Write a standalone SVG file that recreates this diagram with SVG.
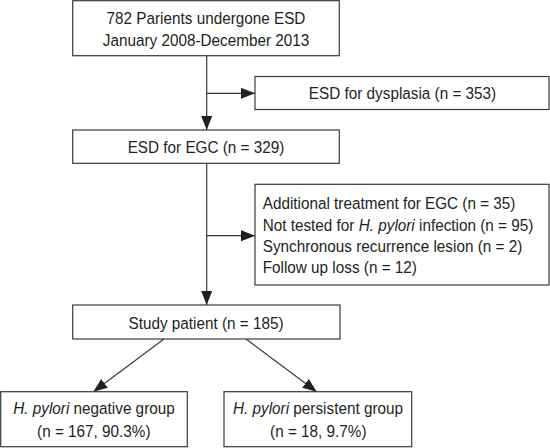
<svg xmlns="http://www.w3.org/2000/svg" width="550" height="448" viewBox="0 0 550 448">
<style>
  .box { fill: #ffffff; stroke: #3a3a3a; stroke-width: 1.2; }
  .edge { fill: none; stroke: #3a3a3a; stroke-width: 1.2; }
  text { font-family: "Liberation Sans", Arial, sans-serif; font-size: 17px; fill: #231f20; }
  .c { text-anchor: middle; }
  .i { font-style: italic; }
</style>
<defs>
  <marker id="arr" markerUnits="userSpaceOnUse" markerWidth="16" markerHeight="12" refX="14" refY="5.5" orient="auto">
    <path d="M0,0 L14,5.5 L0,11 Z" fill="#231f20"/>
  </marker>
</defs>
<rect width="550" height="448" fill="#ffffff"/>
<g id="connectors">
  <line class="edge" x1="206.7" y1="55.7" x2="206.7" y2="130" marker-end="url(#arr)"/>
  <line class="edge" x1="206.7" y1="93.3" x2="255" y2="93.3" marker-end="url(#arr)"/>
  <line class="edge" x1="206.7" y1="163.3" x2="206.7" y2="305" marker-end="url(#arr)"/>
  <line class="edge" x1="206.7" y1="235.7" x2="255" y2="235.7" marker-end="url(#arr)"/>
  <line class="edge" x1="164" y1="339" x2="93.3" y2="391.7" marker-end="url(#arr)"/>
  <line class="edge" x1="246" y1="339" x2="316.7" y2="391.7" marker-end="url(#arr)"/>
</g>
<g id="node-start">
  <rect class="box" x="72.7" y="0.7" width="266.6" height="55"/>
  <text class="c" transform="translate(206,24) scale(0.9,1)">782 Parients undergone ESD</text>
  <text class="c" transform="translate(206,45.7) scale(0.9,1)">January 2008-December 2013</text>
</g>
<g id="node-dysplasia">
  <rect class="box" x="255" y="76.5" width="294" height="33"/>
  <text class="c" transform="translate(402.5,99.3) scale(0.9,1)">ESD for dysplasia (n = 353)</text>
</g>
<g id="node-egc">
  <rect class="box" x="72.7" y="130" width="266.6" height="33.3"/>
  <text class="c" transform="translate(206,153.3) scale(0.9,1)">ESD for EGC (n = 329)</text>
</g>
<g id="node-excluded">
  <rect class="box" x="255" y="184.3" width="294" height="100.7"/>
  <text transform="translate(262.7,209.3) scale(0.9,1)">Additional treatment for EGC (n = 35)</text>
  <text transform="translate(262.7,230.6) scale(0.9,1)">Not tested for <tspan class="i">H. pylori</tspan> infection (n = 95)</text>
  <text transform="translate(262.7,251.9) scale(0.9,1)">Synchronous recurrence lesion (n = 2)</text>
  <text transform="translate(262.7,273.2) scale(0.9,1)">Follow up loss (n = 12)</text>
</g>
<g id="node-study">
  <rect class="box" x="72.7" y="305" width="267.3" height="34"/>
  <text class="c" transform="translate(206,329.3) scale(0.9,1)">Study patient (n = 185)</text>
</g>
<g id="node-negative">
  <rect class="box" x="0.7" y="391.7" width="186.6" height="55"/>
  <text class="c" transform="translate(94,414.3) scale(0.9,1)"><tspan class="i">H. pylori</tspan> negative group</text>
  <text class="c" transform="translate(93.8,436.7) scale(0.9,1)">(n = 167, 90.3%)</text>
</g>
<g id="node-persistent">
  <rect class="box" x="224" y="391.7" width="187.7" height="55"/>
  <text class="c" transform="translate(318,414.3) scale(0.9,1)"><tspan class="i">H. pylori</tspan> persistent group</text>
  <text class="c" transform="translate(318.3,436.7) scale(0.9,1)">(n = 18, 9.7%)</text>
</g>
</svg>
